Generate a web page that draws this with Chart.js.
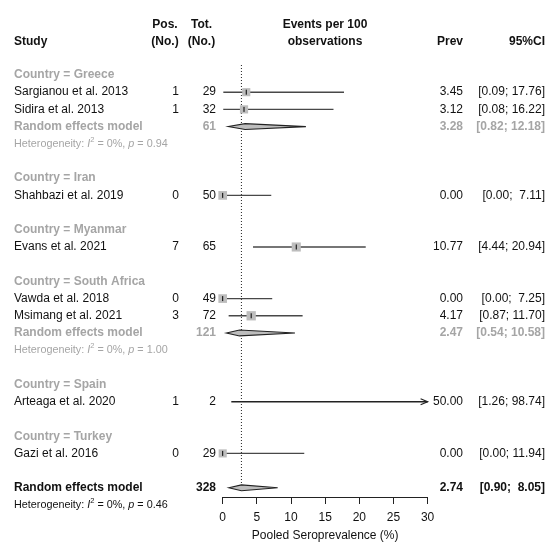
<!DOCTYPE html>
<html>
<head>
<meta charset="utf-8">
<script src="https://cdn.jsdelivr.net/npm/chart.js@4.4.1/dist/chart.umd.min.js"></script>
<style>
    html, body { margin: 0; padding: 0; background: #fff; }
    canvas { display: block; }
</style>
</head>
<body>
<canvas id="forest" width="550" height="546"></canvas>
<script>
// Study level data
const countries = ['Greece', 'Iran', 'Myanmar', 'South Africa', 'Spain', 'Turkey'];
const studies = ['Sargianou et al. 2013', 'Sidira et al. 2013', 'Shahbazi et al. 2019', 'Evans et al. 2021',
    'Vawda et al. 2018', 'Msimang et al. 2021', 'Arteaga et al. 2020', 'Gazi et al. 2016'];
const studyCountry = ['Greece', 'Greece', 'Iran', 'Myanmar', 'South Africa', 'South Africa', 'Spain', 'Turkey'];
const events = [1, 1, 0, 7, 0, 3, 1, 0];
const totals = [29, 32, 50, 65, 49, 72, 2, 29];
const prevalence = [3.45, 3.12, 0.00, 10.77, 0.00, 4.17, 50.00, 0.00];
const ciLower = [0.09, 0.08, 0.00, 4.44, 0.00, 0.87, 1.26, 0.00];
const ciUpper = [17.76, 16.22, 7.11, 20.94, 7.25, 11.70, 98.74, 11.94];

// Subgroup pooled estimates
const subgroupCountries = ['Greece', 'South Africa'];
const subgroupTotals = [61, 121];
const subgroupPrev = [3.28, 2.47];
const subgroupLower = [0.82, 0.54];
const subgroupUpper = [12.18, 10.58];
const subgroupI2 = [0, 0];
const subgroupP = ['0.94', '1.00'];

// Overall pooled estimate
const overallTotal = 328;
const overallPrev = 2.74;
const overallLower = 0.90;
const overallUpper = 8.05;
const overallI2 = 0;
const overallP = '0.46';

const xTicks = [0, 5, 10, 15, 20, 25, 30];

const FONT = '"Liberation Sans", Arial, Helvetica, sans-serif';
const BLACK = '#111';
const GREY = '#a5a5a5';
const X_MAX = xTicks[xTicks.length - 1];

// one row per printed line
function buildLayout() {
    const layout = [];
    countries.forEach(c => {
        layout.push({ kind: 'country', country: c });
        studies.forEach((s, i) => {
            if (studyCountry[i] === c) layout.push({ kind: 'study', i });
        });
        const k = subgroupCountries.indexOf(c);
        if (k >= 0) {
            layout.push({ kind: 'subgroup', k });
            layout.push({ kind: 'het', i2: subgroupI2[k], p: subgroupP[k], color: GREY });
        }
        layout.push({ kind: 'blank' });
    });
    layout.push({ kind: 'overall' });
    layout.push({ kind: 'het', i2: overallI2, p: overallP, color: BLACK });
    return layout;
}

const layout = buildLayout();
const studyRow = studies.map((s, i) => layout.findIndex(r => r.kind === 'study' && r.i === i));
const subgroupRow = subgroupCountries.map((c, k) => layout.findIndex(r => r.kind === 'subgroup' && r.k === k));
const overallRow = layout.findIndex(r => r.kind === 'overall');

const fmt = v => v.toFixed(2);
const fmtCI = (lo, hi) => '[' + fmt(lo) + '; ' + (hi < 10 ? ' ' : '') + fmt(hi) + ']';

// squares only for estimates inside the axis range
const shown = studies.map((s, i) => i).filter(i => prevalence[i] <= X_MAX);
const squareSide = i => 7.3 + 2 * totals[i] / 72;

const datasets = [];
datasets.push({
    type: 'scatter',
    data: shown.map(i => ({ x: prevalence[i], y: studyRow[i] })),
    pointStyle: 'line',
    pointRotation: 90,
    pointRadius: 2.5,
    borderColor: '#000',
    borderWidth: 1,
    clip: false
});
datasets.push({
    type: 'scatter',
    data: shown.map(i => ({ x: prevalence[i], y: studyRow[i] })),
    pointStyle: 'rect',
    pointRadius: shown.map(i => squareSide(i) / 2 / Math.SQRT1_2),
    backgroundColor: '#bdbdbd',
    borderWidth: 0,
    clip: false
});
studies.forEach((s, i) => {
    datasets.push({
        type: 'line',
        data: [{ x: ciLower[i], y: studyRow[i] }, { x: Math.min(ciUpper[i], X_MAX), y: studyRow[i] }],
        borderColor: ciUpper[i] > X_MAX ? '#222' : '#484848',
        borderWidth: 1.4,
        pointRadius: 0,
        clip: false
    });
});
datasets.push({
    type: 'line',
    data: [{ x: overallPrev, y: -0.58 }, { x: overallPrev, y: overallRow + 0.1 }],
    borderColor: '#222',
    borderWidth: 1,
    borderDash: [1, 2],
    pointRadius: 0,
    clip: false
});

// diamonds and arrows, drawn on the chart scales
const diamondPlugin = {
    id: 'diamonds',
    afterDatasetsDraw(chart) {
        const { ctx, scales: { x, y } } = chart;
        const h = 0.17;
        const diamond = (lo, est, hi, row) => {
            ctx.beginPath();
            ctx.moveTo(x.getPixelForValue(lo), y.getPixelForValue(row));
            ctx.lineTo(x.getPixelForValue(est), y.getPixelForValue(row - h));
            ctx.lineTo(x.getPixelForValue(hi), y.getPixelForValue(row));
            ctx.lineTo(x.getPixelForValue(est), y.getPixelForValue(row + h));
            ctx.closePath();
            ctx.fillStyle = '#bdbdbd';
            ctx.fill();
            ctx.strokeStyle = '#222';
            ctx.lineWidth = 1.1;
            ctx.stroke();
        };
        ctx.save();
        subgroupRow.forEach((row, k) => diamond(subgroupLower[k], subgroupPrev[k], subgroupUpper[k], row));
        diamond(overallLower, overallPrev, overallUpper, overallRow);

        // arrow where the interval runs past the axis
        studies.forEach((s, i) => {
            if (ciUpper[i] <= X_MAX) return;
            const tx = x.getPixelForValue(X_MAX);
            const ty = y.getPixelForValue(studyRow[i]);
            ctx.beginPath();
            ctx.moveTo(tx - 7, ty - 3);
            ctx.lineTo(tx, ty);
            ctx.lineTo(tx - 7, ty + 3);
            ctx.strokeStyle = '#222';
            ctx.lineWidth = 1.2;
            ctx.stroke();
        });
        ctx.restore();
    }
};

function drawHet(ctx, x, y, i2, p, color) {
    const size = 10.8;
    const parts = [
        ['Heterogeneity: ', '', 0, size],
        ['I', 'italic ', 0, size],
        ['2', '', -4, size * 0.7],
        [' = ' + i2 + '%, ', '', 0, size],
        ['p', 'italic ', 0, size],
        [' = ' + p, '', 0, size]
    ];
    ctx.fillStyle = color;
    ctx.textAlign = 'left';
    parts.forEach(([t, style, dy, sz]) => {
        ctx.font = style + sz + 'px ' + FONT;
        ctx.fillText(t, x, y + dy);
        x += ctx.measureText(t).width;
    });
}

const textPlugin = {
    id: 'forestText',
    afterDraw(chart) {
        const { ctx, scales: { y } } = chart;
        const col = { label: 14, pos: 179, tot: 216, prev: 463, ci: 545 };
        const text = (t, px, row, align, bold, color) => {
            ctx.font = (bold ? 'bold ' : '') + '12px ' + FONT;
            ctx.textAlign = align;
            ctx.fillStyle = color;
            ctx.fillText(t, px, y.getPixelForValue(row));
        };
        ctx.save();
        ctx.textBaseline = 'middle';

        // column headers
        text('Study', col.label, -1.95, 'left', true, BLACK);
        text('Pos.', 165, -2.95, 'center', true, BLACK);
        text('(No.)', 165, -1.95, 'center', true, BLACK);
        text('Tot.', 201.5, -2.95, 'center', true, BLACK);
        text('(No.)', 201.5, -1.95, 'center', true, BLACK);
        text('Events per 100', 325, -2.95, 'center', true, BLACK);
        text('observations', 325, -1.95, 'center', true, BLACK);
        text('Prev', col.prev, -1.95, 'right', true, BLACK);
        text('95%CI', col.ci, -1.95, 'right', true, BLACK);

        layout.forEach((r, row) => {
            if (r.kind === 'country') {
                text('Country = ' + r.country, col.label, row, 'left', true, GREY);
            } else if (r.kind === 'study') {
                const i = r.i;
                text(studies[i], col.label, row, 'left', false, BLACK);
                text(String(events[i]), col.pos, row, 'right', false, BLACK);
                text(String(totals[i]), col.tot, row, 'right', false, BLACK);
                text(fmt(prevalence[i]), col.prev, row, 'right', false, BLACK);
                text(fmtCI(ciLower[i], ciUpper[i]), col.ci, row, 'right', false, BLACK);
            } else if (r.kind === 'subgroup') {
                const k = r.k;
                text('Random effects model', col.label, row, 'left', true, GREY);
                text(String(subgroupTotals[k]), col.tot, row, 'right', true, GREY);
                text(fmt(subgroupPrev[k]), col.prev, row, 'right', true, GREY);
                text(fmtCI(subgroupLower[k], subgroupUpper[k]), col.ci, row, 'right', true, GREY);
            } else if (r.kind === 'overall') {
                text('Random effects model', col.label, row, 'left', true, BLACK);
                text(String(overallTotal), col.tot, row, 'right', true, BLACK);
                text(fmt(overallPrev), col.prev, row, 'right', true, BLACK);
                text(fmtCI(overallLower, overallUpper), col.ci, row, 'right', true, BLACK);
            } else if (r.kind === 'het') {
                drawHet(ctx, col.label, y.getPixelForValue(row), r.i2, r.p, r.color);
            }
        });
        ctx.restore();
    }
};

Chart.defaults.font.family = FONT;

new Chart(document.getElementById('forest'), {
    type: 'scatter',
    data: { datasets },
    options: {
        responsive: false,
        animation: false,
        events: [],
        layout: { padding: { left: 222.7, right: 122.4, top: 65, bottom: 0 } },
        plugins: { legend: { display: false }, tooltip: { enabled: false } },
        scales: {
            x: {
                type: 'linear',
                min: 0,
                max: X_MAX,
                afterBuildTicks: s => { s.ticks = xTicks.map(v => ({ value: v })); },
                afterFit: s => { s.height = 49; },
                grid: { display: true, drawOnChartArea: false, drawTicks: true, tickLength: 7, color: '#222', lineWidth: 1 },
                border: { display: true, color: '#222', width: 1 },
                ticks: { color: BLACK, font: { size: 12 }, padding: 6, maxRotation: 0, autoSkip: false },
                title: { display: true, text: 'Pooled Seroprevalence (%)', color: BLACK, font: { size: 12 }, padding: { top: 0, bottom: 3 } }
            },
            y: {
                type: 'linear',
                display: false,
                reverse: true,
                min: -0.58,
                max: overallRow + 0.535
            }
        }
    },
    plugins: [diamondPlugin, textPlugin]
});
</script>
</body>
</html>
